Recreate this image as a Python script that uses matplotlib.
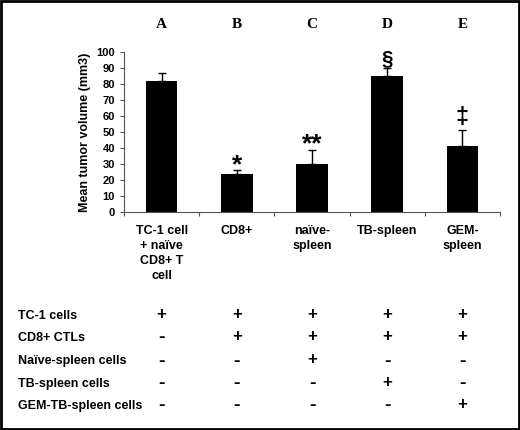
import matplotlib.pyplot as plt
from matplotlib.patches import Rectangle
import matplotlib.transforms as mtransforms

# --- datos ---
letters = ["A", "B", "C", "D", "E"]
categories = ["TC-1 cell\n+ naïve\nCD8+ T\ncell", "CD8+", "naïve-\nspleen", "TB-spleen", "GEM-\nspleen"]
means = [82, 24, 30, 85, 41]
errors = [5, 2, 9, 5, 10]
marks = ["", "*", "**", "§", "‡"]

row_labels = ["TC-1 cells", "CD8+ CTLs", "Naïve-spleen cells", "TB-spleen cells", "GEM-TB-spleen cells"]
tc1_cells = ["+", "+", "+", "+", "+"]
cd8_ctls = ["-", "+", "+", "+", "+"]
naive_spleen = ["-", "-", "+", "-", "-"]
tb_spleen = ["-", "-", "-", "+", "-"]
gem_tb_spleen = ["-", "-", "-", "-", "+"]
table_rows = [tc1_cells, cd8_ctls, naive_spleen, tb_spleen, gem_tb_spleen]

SANS = "Liberation Sans"
SERIF = "Liberation Serif"

fig = plt.figure(figsize=(5.2, 4.3), dpi=100)
ax = fig.add_axes([124 / 520, 1 - 212 / 430, 376 / 520, 160 / 430])

x = list(range(len(means)))
ax.bar(x, means, width=0.42, color="black", zorder=2)
ax.errorbar(x, means, yerr=[[0] * len(errors), errors], fmt="none",
            ecolor="black", elinewidth=1, capsize=3, capthick=1, zorder=3)

ax.set_xlim(-0.5, len(means) - 0.5)
ax.set_ylim(0, 100)
ax.set_yticks(range(0, 101, 10))
ax.set_yticklabels([str(v) for v in range(0, 101, 10)],
                   fontsize=8, fontweight="bold", family=SANS)
ax.set_xticks([i - 0.5 for i in range(len(means) + 1)])
ax.set_xticklabels([])
ax.tick_params(axis="both", direction="out", length=3, width=0.8, colors="#555555",
               labelcolor="black")
ax.spines["top"].set_visible(False)
ax.spines["right"].set_visible(False)
ax.spines["left"].set_color("#555555")
ax.spines["bottom"].set_color("#555555")
ax.set_ylabel("Mean tumor volume (mm3)", fontsize=9, fontweight="bold",
              family=SANS, labelpad=4)

# simbolos de significancia
sizes = {"*": 19, "**": 19, "§": 15, "‡": 17}
offs = {"*": -5, "**": -5, "§": 0, "‡": 1}
for i, m in enumerate(marks):
    if m:
        ax.annotate(m, xy=(i, means[i] + errors[i]), xytext=(0, offs[m]),
                    textcoords="offset points", ha="center", va="bottom",
                    fontsize=sizes[m], fontweight="bold", family=SANS)

# letras de grupo arriba
tr = mtransforms.blended_transform_factory(ax.transData, fig.transFigure)
for i, lt in enumerate(letters):
    fig.text(i, 1 - 25 / 430, lt, transform=tr, ha="center", va="center",
             fontsize=11, fontweight="bold", family=SERIF)

# etiquetas de categoria bajo el eje
for i, cat in enumerate(categories):
    fig.text(i, 1 - 225 / 430, cat, transform=tr, ha="center", va="top",
             fontsize=9, fontweight="bold", family=SANS, linespacing=1.35)

# tabla de tratamientos
row_y = [316, 338, 361, 384, 406]
for r, (lab, vals) in enumerate(zip(row_labels, table_rows)):
    yy = 1 - row_y[r] / 430
    fig.text(18 / 520, yy, lab, ha="left", va="center",
             fontsize=9, fontweight="bold", family=SANS)
    for i, v in enumerate(vals):
        if v == "+":
            fig.text(i, yy + 0.004, v, transform=tr, ha="center", va="center",
                     fontsize=12, fontweight="bold", family=SANS)
        else:
            fig.text(i, yy, v, transform=tr, ha="center", va="center",
                     fontsize=14, fontweight="bold", family=SANS)

# marco exterior
fig.patches.append(Rectangle((0.002, 0.002), 0.996, 0.996, transform=fig.transFigure,
                             fill=False, edgecolor="black", linewidth=2))

fig.savefig("out.png", dpi=100)
